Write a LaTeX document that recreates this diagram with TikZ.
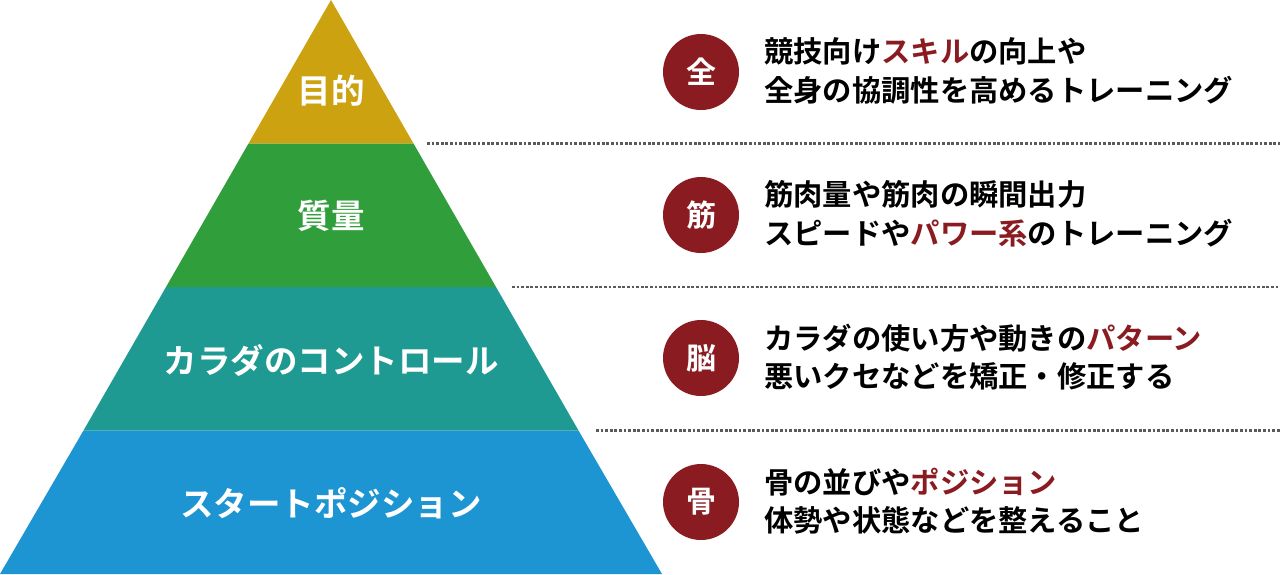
\documentclass[tikz,border=0pt]{standalone}
\usepackage{fontspec}
\setmainfont{Noto Sans CJK JP}[BoldFont={* Bold}]
\newfontfamily\jpb{Noto Sans CJK JP Bold}
\definecolor{cyellow}{HTML}{CDA210}
\definecolor{cgreen}{HTML}{309E3A}
\definecolor{cteal}{HTML}{1E9A93}
\definecolor{cblue}{HTML}{1E95D3}
\definecolor{cred}{HTML}{8A1B21}
\definecolor{cdash}{HTML}{5A5A5A}
\begin{document}
\begin{tikzpicture}[x=1pt,y=-1pt,
  lbl/.style={text=white,font=\jpb\fontsize{33.5}{33.5}\selectfont,inner sep=0pt},
  badge/.style={circle,fill=cred,minimum size=76pt,inner sep=0pt,text=white,font=\jpb\fontsize{30}{30}\selectfont},
  desc/.style={anchor=west,align=left,inner sep=0pt,font=\jpb\fontsize{29.3}{38.5}\selectfont,text=black},
  sep/.style={draw=cdash,line width=2.2pt,dash pattern=on 2.8pt off 1.8pt}]
\useasboundingbox (0,0) rectangle (1280,574);
% pyramid bands
\fill[cyellow] (331,0) -- (413.5,143.5) -- (248.5,143.5) -- cycle;
\fill[cgreen] (248.5,143.5) -- (413.5,143.5) -- (496,287) -- (166,287) -- cycle;
\fill[cteal] (166,287) -- (496,287) -- (578.5,430.5) -- (83.5,430.5) -- cycle;
\fill[cblue] (83.5,430.5) -- (578.5,430.5) -- (662,574) -- (0,574) -- cycle;
% labels
\node[lbl] (l1) at (331,91) {目的};
\node[lbl] (l2) at (331,216) {質量};
\node[lbl] (l3) at (331,360) {カラダのコントロール};
\node[lbl] (l4) at (331,503) {スタートポジション};
% separators
\coordinate (s1a) at (427,143.5); \coordinate (s1b) at (1280,143.5);
\coordinate (s2a) at (512,287); \coordinate (s2b) at (1280,287);
\coordinate (s3a) at (596,430.5); \coordinate (s3b) at (1280,430.5);
\draw[sep] (s1a) -- (s1b);
\draw[sep] (s2a) -- (s2b);
\draw[sep] (s3a) -- (s3b);
% badges
\node[badge] (b1) at (701,72) {全};
\node[badge] (b2) at (701,215) {筋};
\node[badge] (b3) at (701,358) {脳};
\node[badge] (b4) at (701,502) {骨};
% descriptions
\node[desc] (d1) at (764,71) {競技向け\textcolor{cred}{スキル}の向上や\\全身の協調性を高めるトレーニング};
\node[desc] (d2) at (764,214) {筋肉量や筋肉の瞬間出力\\スピードや\textcolor{cred}{パワー系}のトレーニング};
\node[desc] (d3) at (764,357) {カラダの使い方や動きの\textcolor{cred}{パターン}\\悪いクセなどを矯正・修正する};
\node[desc] (d4) at (764,501) {骨の並びや\textcolor{cred}{ポジション}\\体勢や状態などを整えること};
\end{tikzpicture}
\end{document}
